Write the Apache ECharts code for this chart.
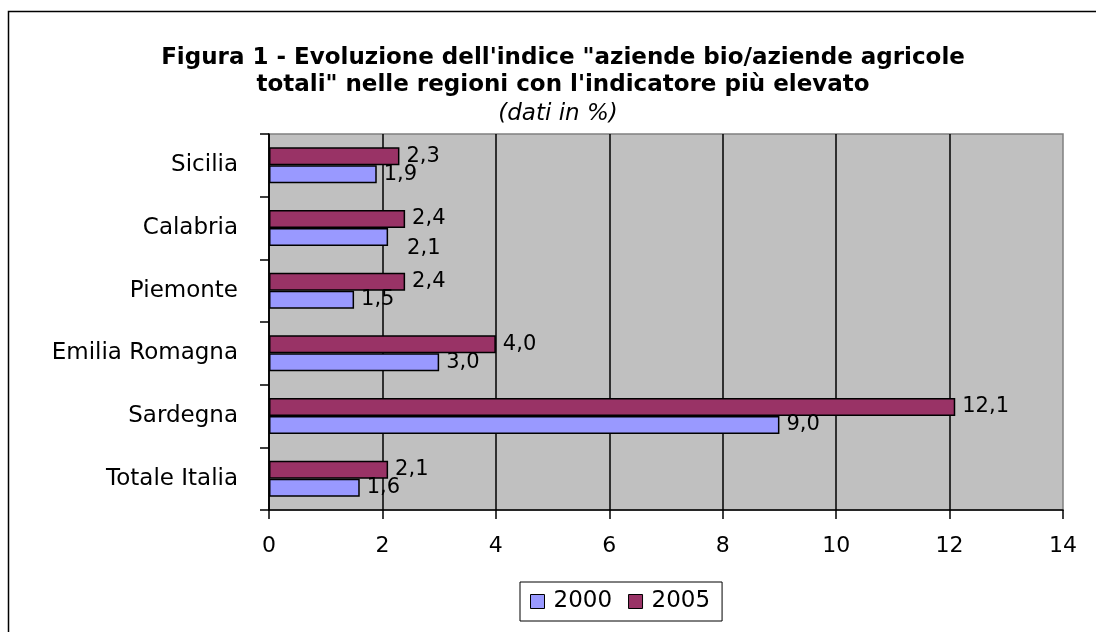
<!DOCTYPE html>
<html>
<head>
<meta charset="utf-8">
<script src="https://cdn.jsdelivr.net/npm/echarts@6/dist/echarts.min.js"></script>
<style>
  html, body { margin: 0; padding: 0; background: #fff; }
  #chart { width: 1096px; height: 632px; }
</style>
</head>
<body>
<div id="chart"></div>
<script>
// regioni, dal basso verso l'alto come nel grafico
const regioni = ['Totale Italia', 'Sardegna', 'Emilia Romagna', 'Piemonte', 'Calabria', 'Sicilia'];
const valori2000 = [1.6, 9.0, 3.0, 1.5, 2.1, 1.9];
const valori2005 = [2.1, 12.1, 4.0, 2.4, 2.4, 2.3];
const anni = ['2000', '2005'];

const FONT = 'DejaVu Sans';

const fmt = (p) => p.value.toFixed(1).replace('.', ',');

// etichetta di Calabria 2000 spostata come nell'originale
const dati2000 = valori2000.map((v, i) => {
  if (regioni[i] === 'Calabria') {
    return { value: v, label: { offset: [12, 12] } };
  }
  return v;
});

const chart = echarts.init(document.getElementById('chart'));

const barLabel = {
  show: true,
  position: 'right',
  distance: 7,
  color: '#000',
  fontFamily: FONT,
  fontSize: 21,
  formatter: fmt
};

chart.setOption({
  animation: false,
  backgroundColor: '#fff',
  textStyle: { fontFamily: FONT },
  title: [
    {
      text: 'Figura 1 - Evoluzione dell\'indice "aziende bio/aziende agricole\ntotali" nelle regioni con l\'indicatore più elevato',
      left: 558,
      top: 40,
      textAlign: 'center',
      textStyle: {
        fontFamily: FONT,
        fontSize: 23,
        fontWeight: 'bold',
        color: '#000',
        lineHeight: 27
      }
    },
    {
      text: '(dati in %)',
      left: 553,
      top: 98,
      textAlign: 'center',
      textStyle: {
        fontFamily: FONT,
        fontSize: 23,
        fontStyle: 'italic',
        fontWeight: 'normal',
        color: '#000'
      }
    }
  ],
  legend: {
    data: anni,
    left: 520,
    top: 582,
    orient: 'horizontal',
    padding: [8, 12, 8, 10],
    itemGap: 16,
    itemWidth: 14,
    itemHeight: 14,
    icon: 'rect',
    borderColor: '#000',
    borderWidth: 1,
    backgroundColor: '#fff',
    itemStyle: { borderColor: '#000', borderWidth: 1 },
    textStyle: {
      fontFamily: FONT,
      fontSize: 23,
      color: '#000',
      padding: [2, 0, 0, 4]
    }
  },
  grid: {
    left: 269,
    right: 33,
    top: 134,
    bottom: 122,
    show: true,
    backgroundColor: '#C0C0C0',
    borderColor: '#808080',
    borderWidth: 1.5
  },
  xAxis: {
    type: 'value',
    min: 0,
    max: 14,
    interval: 2,
    axisLine: { show: true, lineStyle: { color: '#000', width: 1.5 } },
    axisTick: { show: true, length: 9, lineStyle: { color: '#000', width: 1.5 } },
    axisLabel: {
      color: '#000',
      fontFamily: FONT,
      fontSize: 22,
      margin: 25
    },
    splitLine: {
      show: true,
      showMaxLine: false,
      lineStyle: { color: '#000', width: 1.5 }
    }
  },
  yAxis: {
    type: 'category',
    data: regioni,
    axisLine: { show: true, lineStyle: { color: '#000', width: 1.5 } },
    axisTick: { show: true, length: 9, lineStyle: { color: '#000', width: 1.5 } },
    axisLabel: {
      color: '#000',
      fontFamily: FONT,
      fontSize: 23,
      margin: 31
    },
    splitLine: { show: false }
  },
  // 2005 per primo: in ECharts la prima serie sta in alto nella banda
  series: [
    {
      name: '2005',
      type: 'bar',
      data: valori2005,
      barWidth: 18,
      barGap: '0%',
      itemStyle: { color: '#993366', borderColor: '#000', borderWidth: 1.5 },
      label: barLabel
    },
    {
      name: '2000',
      type: 'bar',
      data: dati2000,
      barWidth: 18,
      barGap: '0%',
      itemStyle: { color: '#9999FF', borderColor: '#000', borderWidth: 1.5 },
      label: barLabel
    }
  ],
  graphic: [
    {
      type: 'rect',
      silent: true,
      z: 100,
      shape: { x: 8.5, y: 11.5, width: 1200, height: 700 },
      style: { fill: null, stroke: '#000', lineWidth: 1.5 }
    }
  ]
});
</script>
</body>
</html>
